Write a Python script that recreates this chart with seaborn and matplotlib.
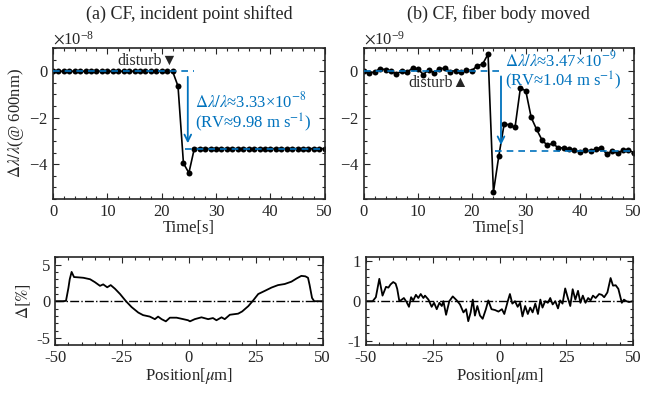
import numpy as np
import seaborn as sns
import matplotlib.pyplot as plt
from matplotlib.ticker import MultipleLocator

sns.set_style("ticks")
plt.rcParams['font.family'] = ['Liberation Serif', 'DejaVu Sans']
plt.rcParams['mathtext.fontset'] = 'stix'
plt.rcParams['axes.unicode_minus'] = False
plt.rcParams['font.size'] = 12

BLUE = '#0072BD'

# --- data: time series (units of 1e-8 / 1e-9) ---
t = list(range(51))
dl_a = [0, 0, 0, 0, 0, 0, 0, 0, 0, 0, 0, 0, 0, 0, 0, 0, 0, 0, 0, 0, 0, 0, 0,
        -0.64, -3.96, -4.38,
        -3.33, -3.33, -3.33, -3.33, -3.33, -3.33, -3.33, -3.33, -3.33, -3.33,
        -3.33, -3.33, -3.33, -3.33, -3.33, -3.33, -3.33, -3.33, -3.33, -3.33,
        -3.33, -3.33, -3.33, -3.33, -3.33]
dl_b = [0, -0.08, -0.02, 0.11, 0.07, 0.0, -0.11, 0.01, -0.03, 0.13,
        0.1, -0.14, 0.07, -0.06, 0.11, 0.13, -0.01, 0.03, -0.05, 0.06,
        0.03, 0.24, 0.31, 0.74, -5.2, -3.64, -2.25, -2.32, -2.42, -0.71,
        -0.85, -1.99, -2.5, -2.96, -3.19, -3.1, -3.3, -3.3, -3.36, -3.39,
        -3.47, -3.39, -3.43, -3.35, -3.29, -3.57, -3.43, -3.53, -3.4, -3.4,
        -3.5]
level_a = -3.33
level_b = -3.42

# --- data: profiles ---
pos_a = [-50, -47, -45.9, -45.0, -44.5, -43.8, -42.9, -41, -39.4, -36.9,
         -35.1, -33.2, -32, -30.5, -29.2, -27.6, -25.7, -23.5, -21.4, -18.9,
         -17.1, -14.6, -12.7, -11.5, -10.2, -8.6, -7.1, -4.6, -2.1, -0.3,
         0.4, 2.2, 4.7, 7.2, 9.0, 10.3, 12.2, 13.4, 15.3, 18.4,
         19.9, 22.2, 24.0, 25.9, 28.4, 30.9, 33.3, 35.8, 38.3, 40.2,
         42.0, 43.5, 44.5, 45.1, 46.0, 46.8, 50]
delta_a = [0, 0, 0.05, 1.8, 3.0, 4.0, 3.3, 3.25, 3.2, 3.0,
           2.6, 2.1, 2.3, 1.9, 2.2, 1.7, 0.98, 0, -0.8, -1.55,
           -1.9, -2.1, -2.45, -2.1, -2.45, -2.75, -2.25, -2.25, -2.45, -2.6,
           -2.75, -2.45, -2.2, -2.45, -2.3, -2.6, -2.2, -2.45, -1.85, -1.7,
           -1.4, -0.67, 0.1, 0.98, 1.42, 1.87, 2.2, 2.35, 2.67, 3.1,
           3.46, 3.4, 3.2, 2.2, 0.45, 0, 0]

pos_b = [-50, -47.5, -46.3, -45.0, -43.8, -42.5, -41.6, -40.8, -39.8, -38.9,
         -38.3, -37.5, -36.6, -35.8, -34.8, -33.9, -33.1, -32.3, -31.3, -30.4,
         -29.5, -28.5, -27.9, -26.6, -25.4, -24.5, -23.5, -22.5, -21.6, -21.0,
         -20.0, -18.8, -17.5, -16.0, -14.8, -13.5, -12.5, -11.7, -10.8, -10.0,
         -9.2, -8.3, -7.3, -6.3, -5.1, -4.2, -3.0, -1.7, -0.4, 0.9,
         1.8, 3.1, 3.9, 4.8, 5.8, 6.8, 7.7, 8.6, 9.6, 10.6,
         11.5, 12.4, 13.4, 14.4, 15.3, 16.1, 17.1, 18.1, 19.0, 19.9,
         20.9, 21.9, 22.7, 23.6, 24.6, 25.6, 26.5, 27.4, 28.4, 29.4,
         30.3, 31.2, 32.2, 33.2, 34.1, 35.0, 36.0, 37.3, 38.3, 39.2,
         40.4, 41.6, 42.5, 43.5, 44.5, 45.8, 46.6, 47.5, 48.5, 50]
delta_b = [0.0, 0.0, 0.1, 0.56, 0.14, 0.36, 0.34, 0.42, 0.48, 0.44,
           0.31, 0.0, 0.04, 0.08, -0.02, -0.14, 0.1, 0.02, 0.16, 0.08,
           0.18, 0.08, 0.14, 0.04, -0.14, -0.04, -0.2, -0.04, -0.12, 0.0,
           -0.34, 0.0, 0.12, 0.02, -0.08, -0.28, -0.2, -0.5, -0.28, 0.04,
           -0.36, -0.12, -0.36, -0.44, -0.2, 0.02, -0.2, -0.22, -0.26, -0.2,
           -0.32, 0.0, 0.18, -0.06, 0.0, -0.14, -0.04, -0.38, -0.12, -0.32,
           -0.16, -0.28, -0.06, -0.32, 0.04, -0.16, 0.0, -0.04, 0.08, -0.08,
           0.0, -0.18, 0.02, -0.06, 0.32, 0.08, -0.12, 0.3, 0.04, 0.26,
           -0.04, 0.14, -0.04, 0.08, 0.02, 0.14, 0.08, 0.18, 0.16, 0.1,
           0.22, 0.58, 0.39, 0.4, 0.31, -0.04, 0.04, 0.0, -0.02, 0.0]

fig = plt.figure(figsize=(6.66, 3.94), dpi=100)
ax1 = fig.add_axes([0.0796, 0.495, 0.408, 0.383])
ax2 = fig.add_axes([0.5465, 0.495, 0.405, 0.383])
ax3 = fig.add_axes([0.0826, 0.124, 0.402, 0.223])
ax4 = fig.add_axes([0.5495, 0.124, 0.401, 0.223])


def style(ax):
    for s in ax.spines.values():
        s.set_linewidth(1.2)
    ax.tick_params(which='both', direction='in', top=True, right=True,
                   labelsize=12, width=0.8)
    ax.tick_params(which='major', length=4)
    ax.tick_params(which='minor', length=2)


# ---------- top panels ----------
for ax, dl, scale, level, title in [
        (ax1, dl_a, 1e-8, level_a, '(a) CF, incident point shifted'),
        (ax2, dl_b, 1e-9, level_b, '(b) CF, fiber body moved')]:
    y = np.array(dl) * scale
    sns.lineplot(x=t, y=y, ax=ax, color='k', lw=1.2, marker='o',
                 markersize=4.3, markeredgewidth=0, zorder=2)
    ax.plot([0, 26], [0, 0], color=BLUE, lw=1.2, dashes=(4, 3), zorder=3)
    ax.plot([24.2, 50], [level * scale, level * scale], color=BLUE, lw=1.2,
            dashes=(4, 3), zorder=3)
    ax.set_xlim(0, 50)
    ax.set_ylim(-5.5 * scale, 1 * scale)
    ax.set_yticks(np.array([-4, -2, 0]) * scale)
    ax.xaxis.set_major_locator(MultipleLocator(10))
    ax.xaxis.set_minor_locator(MultipleLocator(2))
    ax.yaxis.set_minor_locator(MultipleLocator(0.5 * scale))
    ax.ticklabel_format(axis='y', style='sci', scilimits=(0, 0), useMathText=True)
    ax.yaxis.get_offset_text().set_fontsize(12)
    ax.set_xlabel('Time[s]', fontsize=12, labelpad=0)
    ax.set_title(title, fontsize=13, pad=21)
    style(ax)

ax1.set_ylabel(r'$\Delta\lambda/\lambda$(@ 600nm)', fontsize=12, labelpad=2)

ax1.annotate('', xy=(24.8, -3.22e-8), xytext=(24.8, -0.12e-8),
             arrowprops=dict(arrowstyle='->', color=BLUE, lw=1.3))
ax1.text(26.2, -1.8e-8,
         r'$\Delta\lambda/\lambda$≈3.33×10$^{-8}$' + '\n(RV≈9.98 m s$^{-1}$)',
         color=BLUE, fontsize=12, ha='left', va='center', linespacing=1.0)
ax1.text(22.9, 0.45e-8, 'disturb▼', fontsize=11.5, ha='right', va='center',
         family=['Liberation Serif', 'DejaVu Sans'])

ax2.annotate('', xy=(25.4, -3.3e-9), xytext=(25.4, -0.1e-9),
             arrowprops=dict(arrowstyle='->', color=BLUE, lw=1.3))
ax2.text(26.2, 0.0,
         r'$\Delta\lambda/\lambda$≈3.47×10$^{-9}$' + '\n(RV≈1.04 m s$^{-1}$)',
         color=BLUE, fontsize=12, ha='left', va='center', linespacing=1.0)
ax2.text(19.4, -0.52e-9, 'disturb▲', fontsize=11.5, ha='right', va='center',
         family=['Liberation Serif', 'DejaVu Sans'])

# ---------- bottom panels ----------
for ax, pos, dlt, lim, major, minor in [
        (ax3, pos_a, delta_a, 6, 5, 1),
        (ax4, pos_b, delta_b, 1.1, 1, 0.2)]:
    sns.lineplot(x=pos, y=dlt, ax=ax, color='k', lw=1.3)
    ax.axhline(0, color='k', lw=1.0, ls='-.')
    ax.set_xlim(-50, 50)
    ax.set_ylim(-lim, lim)
    ax.set_xticks([-50, -25, 0, 25, 50])
    ax.xaxis.set_minor_locator(MultipleLocator(5))
    ax.yaxis.set_major_locator(MultipleLocator(major))
    ax.yaxis.set_minor_locator(MultipleLocator(minor))
    ax.set_xlabel(r'Position[$\mu$m]', fontsize=12, labelpad=0)
    style(ax)

ax3.set_ylabel(r'$\Delta[\%]$', fontsize=12, labelpad=2)

fig.savefig('out.png', dpi=100)
